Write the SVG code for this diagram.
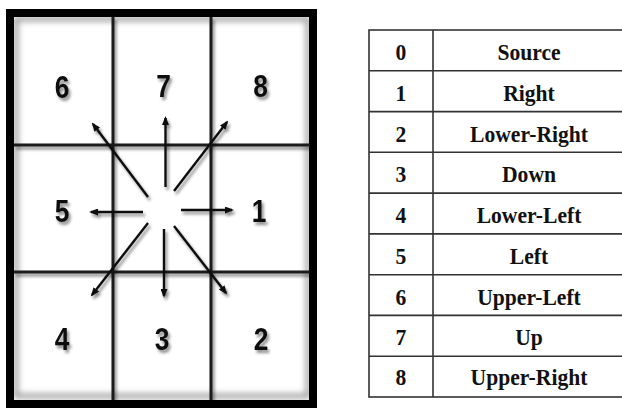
<svg xmlns="http://www.w3.org/2000/svg" width="622" height="410" viewBox="0 0 622 410">
<defs>
<filter id="sh" x="-20%" y="-20%" width="140%" height="140%">
<feDropShadow dx="2" dy="3" stdDeviation="1.6" flood-color="#000" flood-opacity="0.45"/>
</filter>
<filter id="blur" x="-5%" y="-5%" width="110%" height="110%">
<feGaussianBlur stdDeviation="3"/>
</filter>
<marker id="ah" markerUnits="userSpaceOnUse" markerWidth="9" markerHeight="7" refX="7" refY="3.5" orient="auto">
<path d="M0,0 L9,3.5 L0,7 z" fill="#111"/>
</marker>
</defs>
<style>
.num{font-family:"Liberation Sans",Arial,sans-serif;font-weight:bold;font-size:31px;fill:#111;text-anchor:middle}
.grid{stroke:#1a1a1a;stroke-width:3;fill:none}
.arr{stroke:#111;stroke-width:2.4;fill:none;marker-end:url(#ah)}
.tl{stroke:#333;stroke-width:1.6;fill:none}
.tt{font-family:"Liberation Serif","Times New Roman",serif;font-weight:bold;font-size:24px;fill:#111;text-anchor:middle}
</style>
<rect width="622" height="410" fill="#fff"/>
<g id="grid-frame">
<rect x="16" y="19" width="292" height="377" fill="none" stroke="#888" stroke-width="4" filter="url(#blur)"/>
<rect x="10" y="13" width="303" height="391" fill="none" stroke="#000" stroke-width="8"/>
<g filter="url(#sh)">
<line class="grid" x1="113" y1="17" x2="113" y2="400"/>
<line class="grid" x1="211" y1="17" x2="211" y2="400"/>
<line class="grid" x1="14" y1="145" x2="310" y2="145"/>
<line class="grid" x1="14" y1="272" x2="310" y2="272"/>
</g>
</g>
<g id="cells" filter="url(#sh)">
<g id="cell6"><text class="num" transform="translate(62,98) scale(0.85,1)">6</text></g>
<g id="cell7"><text class="num" transform="translate(163.5,97) scale(0.85,1)">7</text></g>
<g id="cell8"><text class="num" transform="translate(260.5,97) scale(0.85,1)">8</text></g>
<g id="cell5"><text class="num" transform="translate(62,222) scale(0.85,1)">5</text></g>
<g id="cell1"><text class="num" transform="translate(259,222) scale(0.85,1)">1</text></g>
<g id="cell4"><text class="num" transform="translate(62,350) scale(0.85,1)">4</text></g>
<g id="cell3"><text class="num" transform="translate(162,350) scale(0.85,1)">3</text></g>
<g id="cell2"><text class="num" transform="translate(261,350) scale(0.85,1)">2</text></g>
</g>
<g id="connectors" filter="url(#sh)">
<line class="arr" x1="181" y1="210" x2="232" y2="210"/>
<line class="arr" x1="143" y1="212" x2="91" y2="212"/>
<line class="arr" x1="165.5" y1="187" x2="165.5" y2="118"/>
<line class="arr" x1="164" y1="229" x2="164" y2="296"/>
<line class="arr" x1="148" y1="197" x2="93" y2="124"/>
<line class="arr" x1="174" y1="191" x2="227" y2="122"/>
<line class="arr" x1="148" y1="223" x2="92" y2="295"/>
<line class="arr" x1="174" y1="226" x2="226" y2="293"/>
</g>
<g id="table">
<rect class="tl" x="369" y="30" width="260" height="367"/>
<line class="tl" x1="433" y1="30" x2="433" y2="397"/>
<line class="tl" x1="369" y1="70.8" x2="629" y2="70.8"/>
<line class="tl" x1="369" y1="111.6" x2="629" y2="111.6"/>
<line class="tl" x1="369" y1="152.3" x2="629" y2="152.3"/>
<line class="tl" x1="369" y1="193.1" x2="629" y2="193.1"/>
<line class="tl" x1="369" y1="233.9" x2="629" y2="233.9"/>
<line class="tl" x1="369" y1="274.7" x2="629" y2="274.7"/>
<line class="tl" x1="369" y1="315.4" x2="629" y2="315.4"/>
<line class="tl" x1="369" y1="356.2" x2="629" y2="356.2"/>
<g id="row0"><text class="tt" transform="translate(401,60) scale(0.9,1)">0</text><text class="tt" transform="translate(529,60) scale(0.9,1)">Source</text></g>
<g id="row1"><text class="tt" transform="translate(401,100.5) scale(0.9,1)">1</text><text class="tt" transform="translate(529,100.5) scale(0.9,1)">Right</text></g>
<g id="row2"><text class="tt" transform="translate(401,141.5) scale(0.9,1)">2</text><text class="tt" transform="translate(529,141.5) scale(0.9,1)">Lower-Right</text></g>
<g id="row3"><text class="tt" transform="translate(401,182) scale(0.9,1)">3</text><text class="tt" transform="translate(529,182) scale(0.9,1)">Down</text></g>
<g id="row4"><text class="tt" transform="translate(401,223) scale(0.9,1)">4</text><text class="tt" transform="translate(529,223) scale(0.9,1)">Lower-Left</text></g>
<g id="row5"><text class="tt" transform="translate(401,263.5) scale(0.9,1)">5</text><text class="tt" transform="translate(529,263.5) scale(0.9,1)">Left</text></g>
<g id="row6"><text class="tt" transform="translate(401,304.5) scale(0.9,1)">6</text><text class="tt" transform="translate(529,304.5) scale(0.9,1)">Upper-Left</text></g>
<g id="row7"><text class="tt" transform="translate(401,345) scale(0.9,1)">7</text><text class="tt" transform="translate(529,345) scale(0.9,1)">Up</text></g>
<g id="row8"><text class="tt" transform="translate(401,384.5) scale(0.9,1)">8</text><text class="tt" transform="translate(529,384.5) scale(0.9,1)">Upper-Right</text></g>
</g>
</svg>
